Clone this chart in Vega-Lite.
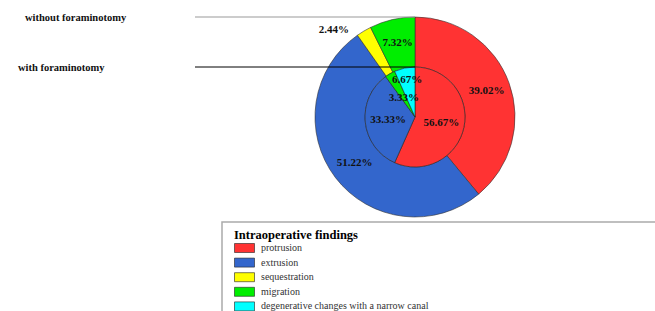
{
  "$schema": "https://vega.github.io/schema/vega-lite/v6.json",
  "width": 655,
  "height": 311,
  "autosize": "none",
  "padding": 0,
  "background": "white",
  "config": {"view": {"stroke": null}, "font": "Liberation Serif"},
  "data": {
    "values": [
      {"ring": "without foraminotomy", "finding": "protrusion", "ord": 1, "p": 0.3902},
      {"ring": "without foraminotomy", "finding": "extrusion", "ord": 2, "p": 0.5122},
      {"ring": "without foraminotomy", "finding": "sequestration", "ord": 3, "p": 0.0244},
      {"ring": "without foraminotomy", "finding": "migration", "ord": 4, "p": 0.0732},
      {"ring": "with foraminotomy", "finding": "protrusion", "ord": 1, "p": 0.5667},
      {"ring": "with foraminotomy", "finding": "extrusion", "ord": 2, "p": 0.3333},
      {"ring": "with foraminotomy", "finding": "migration", "ord": 4, "p": 0.0333},
      {"ring": "with foraminotomy", "finding": "degenerative changes with a narrow canal", "ord": 5, "p": 0.0667}
    ]
  },
  "layer": [
    {
      "data": {"values": [{}]},
      "mark": {"type": "rect", "x": 222, "x2": 700, "y": 222, "y2": 330, "fill": "white", "stroke": "#aaaaaa", "strokeWidth": 1.5},
      "encoding": {}
    },
    {
      "transform": [{"filter": "datum.ring == 'without foraminotomy'"}],
      "mark": {"type": "arc", "x": 415, "y": 117, "outerRadius": 100, "innerRadius": 50, "stroke": "#333333", "strokeWidth": 0.6},
      "encoding": {
        "theta": {"field": "p", "type": "quantitative", "stack": true},
        "order": {"field": "ord", "type": "quantitative"},
        "color": {
          "field": "finding",
          "type": "nominal",
          "scale": {
            "domain": ["protrusion", "extrusion", "sequestration", "migration", "degenerative changes with a narrow canal"],
            "range": ["#FF3333", "#3366CC", "#FFFF00", "#00EE00", "#00FFFF"]
          },
          "legend": {
            "orient": "none",
            "legendX": 234,
            "legendY": 229,
            "padding": 0,
            "title": "Intraoperative findings",
            "titleFont": "Liberation Serif",
            "titleFontSize": 12.5,
            "titleFontWeight": "bold",
            "titleColor": "#000000",
            "titlePadding": 1,
            "labelFont": "Liberation Serif",
            "labelFontSize": 10,
            "labelColor": "#333333",
            "labelOffset": 16,
            "labelLimit": 400,
            "symbolType": "M-1,-0.9H3V0.9H-1Z",
            "symbolSize": 100,
            "symbolStrokeColor": "#444444",
            "symbolStrokeWidth": 0.6,
            "rowPadding": 1.6
          }
        }
      }
    },
    {
      "transform": [{"filter": "datum.ring == 'with foraminotomy'"}],
      "mark": {"type": "arc", "x": 415, "y": 117, "outerRadius": 50, "innerRadius": 0, "stroke": "#222222", "strokeWidth": 0.6},
      "encoding": {
        "theta": {"field": "p", "type": "quantitative", "stack": true},
        "order": {"field": "ord", "type": "quantitative"},
        "color": {"field": "finding", "type": "nominal"}
      }
    },
    {
      "transform": [{"filter": "datum.ring == 'without foraminotomy'"}],
      "mark": {"type": "text", "x": 415, "y": 117, "radius": 76, "fontWeight": "bold", "fontSize": 11, "fill": "#111111"},
      "encoding": {
        "theta": {"field": "p", "type": "quantitative", "stack": true},
        "order": {"field": "ord", "type": "quantitative"},
        "text": {"condition": {"test": "datum.p > 0.05", "field": "p", "type": "quantitative", "format": ".2%"}, "value": ""}
      }
    },
    {
      "transform": [{"filter": "datum.ring == 'without foraminotomy'"}],
      "mark": {"type": "text", "x": 415, "y": 117, "radius": 110, "dx": -25, "dy": 8, "fontWeight": "bold", "fontSize": 11, "fill": "#111111"},
      "encoding": {
        "theta": {"field": "p", "type": "quantitative", "stack": true},
        "order": {"field": "ord", "type": "quantitative"},
        "text": {"condition": {"test": "datum.p < 0.05", "field": "p", "type": "quantitative", "format": ".2%"}, "value": ""}
      }
    },
    {
      "transform": [{"filter": "datum.ring == 'with foraminotomy'"}],
      "mark": {"type": "text", "x": 415, "y": 117, "radius": 27, "fontWeight": "bold", "fontSize": 11, "fill": "#111111"},
      "encoding": {
        "theta": {"field": "p", "type": "quantitative", "stack": true},
        "order": {"field": "ord", "type": "quantitative"},
        "text": {"condition": {"test": "datum.p > 0.1", "field": "p", "type": "quantitative", "format": ".2%"}, "value": ""}
      }
    },
    {
      "transform": [{"filter": "datum.ring == 'with foraminotomy'"}],
      "mark": {"type": "text", "x": 415, "y": 117, "radius": 38, "fontWeight": "bold", "fontSize": 11, "fill": "#111111"},
      "encoding": {
        "theta": {"field": "p", "type": "quantitative", "stack": true},
        "order": {"field": "ord", "type": "quantitative"},
        "text": {"condition": {"test": "datum.finding == 'degenerative changes with a narrow canal'", "field": "p", "type": "quantitative", "format": ".2%"}, "value": ""}
      }
    },
    {
      "transform": [{"filter": "datum.ring == 'with foraminotomy'"}],
      "mark": {"type": "text", "x": 415, "y": 117, "radius": 22, "fontWeight": "bold", "fontSize": 11, "fill": "#111111"},
      "encoding": {
        "theta": {"field": "p", "type": "quantitative", "stack": true},
        "order": {"field": "ord", "type": "quantitative"},
        "text": {"condition": {"test": "datum.finding == 'migration'", "field": "p", "type": "quantitative", "format": ".2%"}, "value": ""}
      }
    },
    {
      "data": {"values": [{"label": "without foraminotomy"}, {"label": "with foraminotomy"}]},
      "mark": {"type": "rule", "x": 195, "x2": 415, "strokeWidth": 1},
      "encoding": {
        "y": {"field": "label", "type": "nominal", "sort": null, "scale": {"type": "point", "domain": ["without foraminotomy", "with foraminotomy"], "range": [17, 67], "padding": 0}, "axis": null},
        "color": {"condition": {"test": "datum.label == 'without foraminotomy'", "value": "#999999"}, "value": "#000000"}
      }
    },
    {
      "data": {"values": [{"label": "without foraminotomy"}, {"label": "with foraminotomy"}]},
      "mark": {"type": "text", "align": "left", "baseline": "middle", "dy": 1, "fontWeight": "bold", "fontSize": 10.5, "fill": "#111111"},
      "encoding": {
        "y": {"field": "label", "type": "nominal", "sort": null, "axis": null},
        "x": {"field": "label", "type": "nominal", "sort": null, "scale": {"type": "point", "domain": ["without foraminotomy", "with foraminotomy"], "range": [25, 18], "padding": 0}, "axis": null},
        "text": {"field": "label"}
      }
    }
  ]
}
